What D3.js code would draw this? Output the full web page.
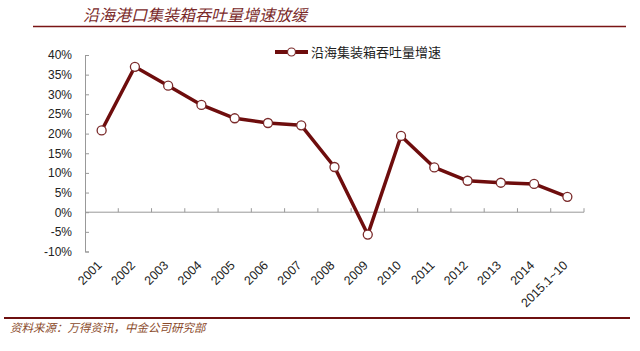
<!DOCTYPE html>
<html><head><meta charset="utf-8">
<script src="https://cdn.jsdelivr.net/npm/d3@7"></script>
<style>body{margin:0;background:#fff}svg{display:block}</style>
</head><body>
<svg id="c" width="640" height="351"></svg>
<script>
const categories = ["2001","2002","2003","2004","2005","2006","2007","2008","2009","2010","2011","2012","2013","2014","2015.1~10"];
const growth = [20.8,37.0,32.2,27.3,23.9,22.7,22.1,11.5,-5.7,19.4,11.4,8.0,7.5,7.2,3.9];
const yTicks = [-10,-5,0,5,10,15,20,25,30,35,40];
const title = "沿海港口集装箱吞吐量增速放缓";
const seriesName = "沿海集装箱吞吐量增速";
const source = "资料来源：万得资讯，中金公司研究部";

const svg = d3.select("#c");
const cjk = "'Noto Sans CJK SC', sans-serif";
const dark = "#6e0d0d";

const x = d3.scaleBand().domain(categories).range([85, 584]);
const y = d3.scaleLinear().domain([-10, 40]).range([251.5, 55]);

// title
svg.append("text").attr("x", 83).attr("y", 20.5).attr("font-family", cjk)
  .attr("font-size", 16).attr("font-style", "italic").attr("fill", "#7a2a2a").text(title);
svg.append("line").attr("x1", 33).attr("x2", 626).attr("y1", 26.5).attr("y2", 26.5)
  .attr("stroke", "#7a1515").attr("stroke-width", 1.5);

// y axis
const yAxis = svg.append("g").attr("transform", "translate(85,0)")
  .call(d3.axisRight(y).tickValues(yTicks).tickSize(4).tickFormat(d => d + "%"));
yAxis.select(".domain").attr("stroke", "#999");
yAxis.selectAll(".tick line").attr("stroke", "#999");
yAxis.selectAll(".tick text").attr("x", -13).attr("text-anchor", "end")
  .attr("font-family", "'Liberation Sans', Arial, sans-serif").attr("font-size", 12).attr("fill", "#222");

// x axis at 0
const xb = svg.append("g").attr("transform", `translate(0,${y(0)})`);
xb.append("line").attr("x1", 85).attr("x2", 584).attr("stroke", "#999");
xb.selectAll("line.t").data(categories).enter().append("line").attr("class", "t")
  .attr("x1", d => x(d) + x.bandwidth()).attr("x2", d => x(d) + x.bandwidth())
  .attr("y1", 0).attr("y2", -4).attr("stroke", "#999");

// x labels
svg.selectAll("text.xl").data(categories).enter().append("text").attr("class", "xl")
  .attr("transform", d => `translate(${x(d) + x.bandwidth() / 2 + 1},${266}) rotate(-45)`)
  .attr("text-anchor", "end").attr("font-family", "'Liberation Sans', Arial, sans-serif")
  .attr("font-size", 12.5).attr("fill", "#222").text(d => d);

// line
const cx = d => x(d) + x.bandwidth() / 2;
const line = d3.line().x((d, i) => cx(categories[i])).y(d => y(d));
svg.append("path").datum(growth).attr("d", line).attr("fill", "none")
  .attr("stroke", dark).attr("stroke-width", 3.5).attr("stroke-linejoin", "round");
svg.selectAll("circle.m").data(growth).enter().append("circle").attr("class", "m")
  .attr("cx", (d, i) => cx(categories[i])).attr("cy", d => y(d)).attr("r", 4.5)
  .attr("fill", "#fff").attr("stroke", "#7a2a2a").attr("stroke-width", 1.3);

// legend
svg.append("line").attr("x1", 275).attr("x2", 308).attr("y1", 52).attr("y2", 52)
  .attr("stroke", dark).attr("stroke-width", 4);
svg.append("circle").attr("cx", 291.5).attr("cy", 52).attr("r", 4)
  .attr("fill", "#fff").attr("stroke", "#7a2a2a").attr("stroke-width", 1.2);
svg.append("text").attr("x", 311).attr("y", 56.5).attr("font-family", cjk)
  .attr("font-size", 13).attr("fill", "#222").text(seriesName);

// bottom rule and source
svg.append("line").attr("x1", 4).attr("x2", 630).attr("y1", 318).attr("y2", 318)
  .attr("stroke", "#6e1010").attr("stroke-width", 2);
svg.append("text").attr("x", 10).attr("y", 332).attr("font-family", cjk)
  .attr("font-size", 11.5).attr("font-style", "italic").attr("fill", "#8a4a2a").text(source);
</script>
</body></html>
